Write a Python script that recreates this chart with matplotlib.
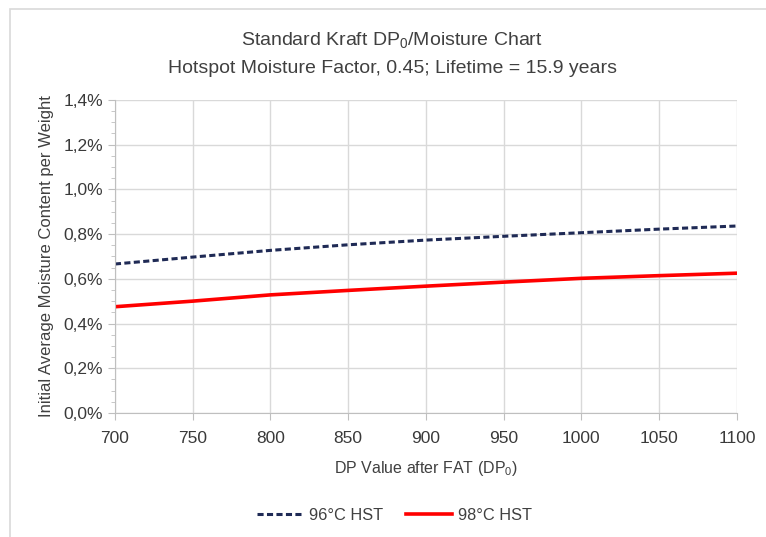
import matplotlib.pyplot as plt
from matplotlib.patches import Rectangle
from matplotlib.ticker import MultipleLocator, FuncFormatter

plt.rcParams['font.family'] = ['Liberation Sans', 'DejaVu Sans']
plt.rcParams['mathtext.fontset'] = 'custom'
plt.rcParams['mathtext.rm'] = 'Liberation Sans'
plt.rcParams['mathtext.it'] = 'Liberation Sans'

# data (moisture in %)
dp_values = [700, 750, 800, 850, 900, 950, 1000, 1050, 1100]
hst_96 = [0.666, 0.697, 0.727, 0.752, 0.773, 0.790, 0.806, 0.822, 0.836]
hst_98 = [0.475, 0.500, 0.528, 0.548, 0.567, 0.585, 0.602, 0.614, 0.625]

fig = plt.figure(figsize=(7.66, 5.37), dpi=100)
ax = fig.add_axes([0.150, 0.231, 0.812, 0.583])

# chart area border (open at right/bottom like the crop)
fig.patches.append(Rectangle((10 / 766, -0.1), 1.2, 1 - 9 / 537 + 0.1,
                             transform=fig.transFigure, fill=False,
                             edgecolor='#D9D9D9', linewidth=1.2))

ax.plot(dp_values, hst_96, color='#1F2A55', linestyle=(0, (2, 1.1)),
        linewidth=2.2, label='96°C HST')
ax.plot(dp_values, hst_98, color='#FF0000', linewidth=2.6, label='98°C HST')

ax.set_xlim(700, 1100)
ax.set_ylim(0, 1.4)
ax.xaxis.set_major_locator(MultipleLocator(50))
ax.yaxis.set_major_locator(MultipleLocator(0.2))
ax.yaxis.set_minor_locator(MultipleLocator(0.05))
ax.yaxis.set_major_formatter(FuncFormatter(lambda v, p: f'{v:.1f}%'.replace('.', ',')))

ax.grid(True, which='major', color='#D9D9D9', linewidth=1)
ax.set_axisbelow(True)
for s in ['top', 'right']:
    ax.spines[s].set_visible(False)
for s in ['left', 'bottom']:
    ax.spines[s].set_color('#BFBFBF')
ax.tick_params(axis='both', which='both', color='#BFBFBF', labelsize=12.5,
               labelcolor='#3A3A3A')
ax.tick_params(axis='x', length=5, pad=8)
ax.tick_params(axis='y', which='major', length=5)
ax.tick_params(axis='y', which='minor', length=3)

ax.set_xlabel('DP Value after FAT (DP$_0$)', fontsize=11.5, color='#404040', labelpad=9)
ax.set_ylabel('Initial Average Moisture Content per Weight', fontsize=12,
              color='#404040', labelpad=7)

fig.text(0.512, 0.925, 'Standard Kraft DP$_0$/Moisture Chart', ha='center',
         va='center', fontsize=14, color='#404040')
fig.text(0.512, 0.873, 'Hotspot Moisture Factor, 0.45; Lifetime = 15.9 years',
         ha='center', va='center', fontsize=14, color='#404040')

fig.legend(loc='center', bbox_to_anchor=(0.515, 0.04), ncol=2, frameon=False,
           fontsize=11.8, handlelength=2.8, columnspacing=1.4, handletextpad=0.4,
           labelcolor='#404040')

fig.savefig('out.png', dpi=100)
